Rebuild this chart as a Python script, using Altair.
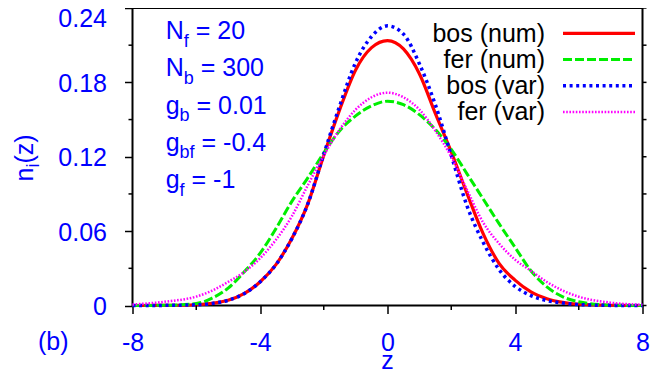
import altair as alt
import pandas as pd

# ---------------- data ----------------
z = [-8, -7, -6, -5.5, -5, -4.5, -4, -3.5, -3, -2.5, -2, -1.5, -1, -0.5, 0,
     0.5, 1, 1.5, 2, 2.5, 3, 3.5, 4, 4.5, 5, 5.5, 6, 7, 8]
bos_num = [0.0, 0.0001, 0.0006, 0.0017, 0.0042, 0.0095, 0.019, 0.033, 0.054, 0.082, 0.121, 0.158, 0.190, 0.208, 0.2137,
           0.207, 0.187, 0.155, 0.124, 0.090, 0.058, 0.034, 0.0205, 0.011, 0.0055, 0.0025, 0.001, 0.0002, 0.0]
fer_num = [0.0, 0.0002, 0.0016, 0.006, 0.014, 0.027, 0.042, 0.062, 0.084, 0.103, 0.123, 0.141, 0.153, 0.161, 0.1648,
           0.162, 0.154, 0.142, 0.126, 0.106, 0.086, 0.066, 0.047, 0.028, 0.015, 0.007, 0.003, 0.0003, 0.0]
bos_var = [0.0, 0.0001, 0.0006, 0.0017, 0.0042, 0.0095, 0.019, 0.033, 0.054, 0.082, 0.122, 0.161, 0.196, 0.217, 0.2256,
           0.219, 0.195, 0.162, 0.121, 0.080, 0.051, 0.029, 0.0155, 0.008, 0.004, 0.002, 0.0008, 0.0001, 0.0]
fer_var = [0.0008, 0.003, 0.0072, 0.012, 0.019, 0.027, 0.038, 0.053, 0.072, 0.097, 0.121, 0.142, 0.158, 0.168, 0.1717,
           0.168, 0.158, 0.141, 0.120, 0.093, 0.067, 0.050, 0.037, 0.028, 0.019, 0.012, 0.0071, 0.0023, 0.0006]

series_names = ["bos (num)", "fer (num)", "bos (var)", "fer (var)"]
series_values = [bos_num, fer_num, bos_var, fer_var]
series_colors = ["#ff0000", "#00ee00", "#0000ff", "#ff00ff"]
series_dash = [None, [9, 3], [3, 3.6], [1.6, 1.6]]
series_width = [3.2, 3, 3.5, 2.5]

x_major = [-8, -4, 0, 4, 8]
x_minor = [-6, -2, 2, 6]
y_major = [0, 0.06, 0.12, 0.18, 0.24]
y_minor = [0.03, 0.09, 0.15, 0.21]

ann_main = ["N", "N", "g", "g", "g"]
ann_sub = ["f", "b", "b", "bf", "f"]
ann_rest = ["= 20", "= 300", "= 0.01", "= -0.4", "= -1"]

# ---------------- layout ----------------
FONT = "Liberation Sans"
BLUE = "#0000ff"
FS = 25
FSUB = 18
W, H = 510, 297.5

xscale = alt.Scale(domain=[-8, 8], nice=False, zero=False)
yscale = alt.Scale(domain=[0, 0.24], nice=False, zero=False)

xaxis = alt.Axis(values=x_major, labelExpr="'' + datum.value", title=None, domain=False, grid=False,
                 tickSize=8, tickWidth=1.5, tickColor="black", labelColor=BLUE, labelFont=FONT,
                 labelFontSize=FS, labelBaseline="alphabetic", labelPadding=36.5, labelFlush=False)
yaxis = alt.Axis(values=y_major, labelExpr="'' + datum.value", title=None, domain=False, grid=False,
                 tickSize=8, tickWidth=1.5, tickColor="black", labelColor=BLUE, labelFont=FONT,
                 labelFontSize=FS, labelBaseline="alphabetic", labelPadding=18, labelFlush=False,
                 labelOffset={"condition": {"test": "datum.value > 0.23", "value": 18}, "value": 9})

dummy = pd.DataFrame({"d": [0]})


def txt(text, x, y, size, color, align="left", angle=0):
    return alt.Chart(dummy).mark_text(
        text=text, align=align, baseline="alphabetic", fontSize=size, color=color, font=FONT, angle=angle
    ).encode(x=alt.value(x), y=alt.value(y))


layers = []

# curves
for name, vals, col, dash, sw in zip(series_names, series_values, series_colors, series_dash, series_width):
    df = pd.DataFrame({"z": z, "v": vals})
    kw = dict(color=col, strokeWidth=sw, interpolate="monotone", strokeCap="butt")
    if dash is not None:
        kw["strokeDash"] = dash
    layers.append(alt.Chart(df).mark_line(**kw).encode(
        x=alt.X("z:Q", scale=xscale, axis=xaxis),
        y=alt.Y("v:Q", scale=yscale, axis=yaxis)))

# minor ticks left / bottom, all ticks right
layers.append(alt.Chart(pd.DataFrame({"v": y_minor})).mark_rule(color="black", strokeWidth=1.5).encode(
    y=alt.Y("v:Q", scale=yscale, axis=yaxis), x=alt.value(-4), x2=alt.value(0)))
layers.append(alt.Chart(pd.DataFrame({"v": y_major + y_minor})).mark_rule(color="black", strokeWidth=1.5).encode(
    y=alt.Y("v:Q", scale=yscale, axis=yaxis), x=alt.value(W), x2=alt.value(W + 4)))
layers.append(alt.Chart(pd.DataFrame({"v": x_minor})).mark_rule(color="black", strokeWidth=1.5).encode(
    x=alt.X("v:Q", scale=xscale, axis=xaxis), y=alt.value(H), y2=alt.value(H + 4.5)))

# legend (label left, sample line right)
for i, (name, col, dash, sw) in enumerate(zip(series_names, series_colors, series_dash, series_width)):
    ly = 25.3 + i * 26.2
    layers.append(txt(name, 412.5, ly + 8.5, FS, "black", align="right"))
    kw = dict(color=col, strokeWidth=sw, strokeCap="butt")
    if dash is not None:
        kw["strokeDash"] = dash
    layers.append(alt.Chart(dummy).mark_rule(**kw).encode(
        x=alt.value(430.5), x2=alt.value(502.5), y=alt.value(ly)))

# parameter annotations with subscripts
WID = {"N": 0.722, "g": 0.556, "f": 0.278, "b": 0.556}
for i, (m, s, r) in enumerate(zip(ann_main, ann_sub, ann_rest)):
    base = 31 + i * 37.25
    x0 = 33.2
    xs = x0 + WID[m] * FS
    xr = xs + sum(WID[c] for c in s) * FSUB + 0.278 * FS
    layers.append(txt(m, x0, base, FS, BLUE))
    layers.append(txt(s, xs, base + 7.5, FSUB, BLUE))
    layers.append(txt(r, xr, base, FS, BLUE))

# axis titles and panel label
layers.append(txt("n", 25 - 124.5, 173.5, FS, BLUE, angle=270))
layers.append(txt("i", 31 - 124.5, 159.6, FSUB, BLUE, angle=270))
layers.append(txt("(z)", 25 - 124.5, 155.6, FS, BLUE, angle=270))
layers.append(txt("z", 255, 361, FS, BLUE, align="center"))
layers.append(txt("(b)", -94.5, 342, FS, BLUE))

chart = alt.layer(*layers).properties(
    width=W, height=H,
    padding={"left": 124.5, "top": 0, "right": 12, "bottom": 66.5},
    autosize=alt.AutoSizeParams(type="none"),
).configure_view(stroke="black", strokeWidth=2)

chart.save("out.html", embed_options={"renderer": "svg", "actions": False})
